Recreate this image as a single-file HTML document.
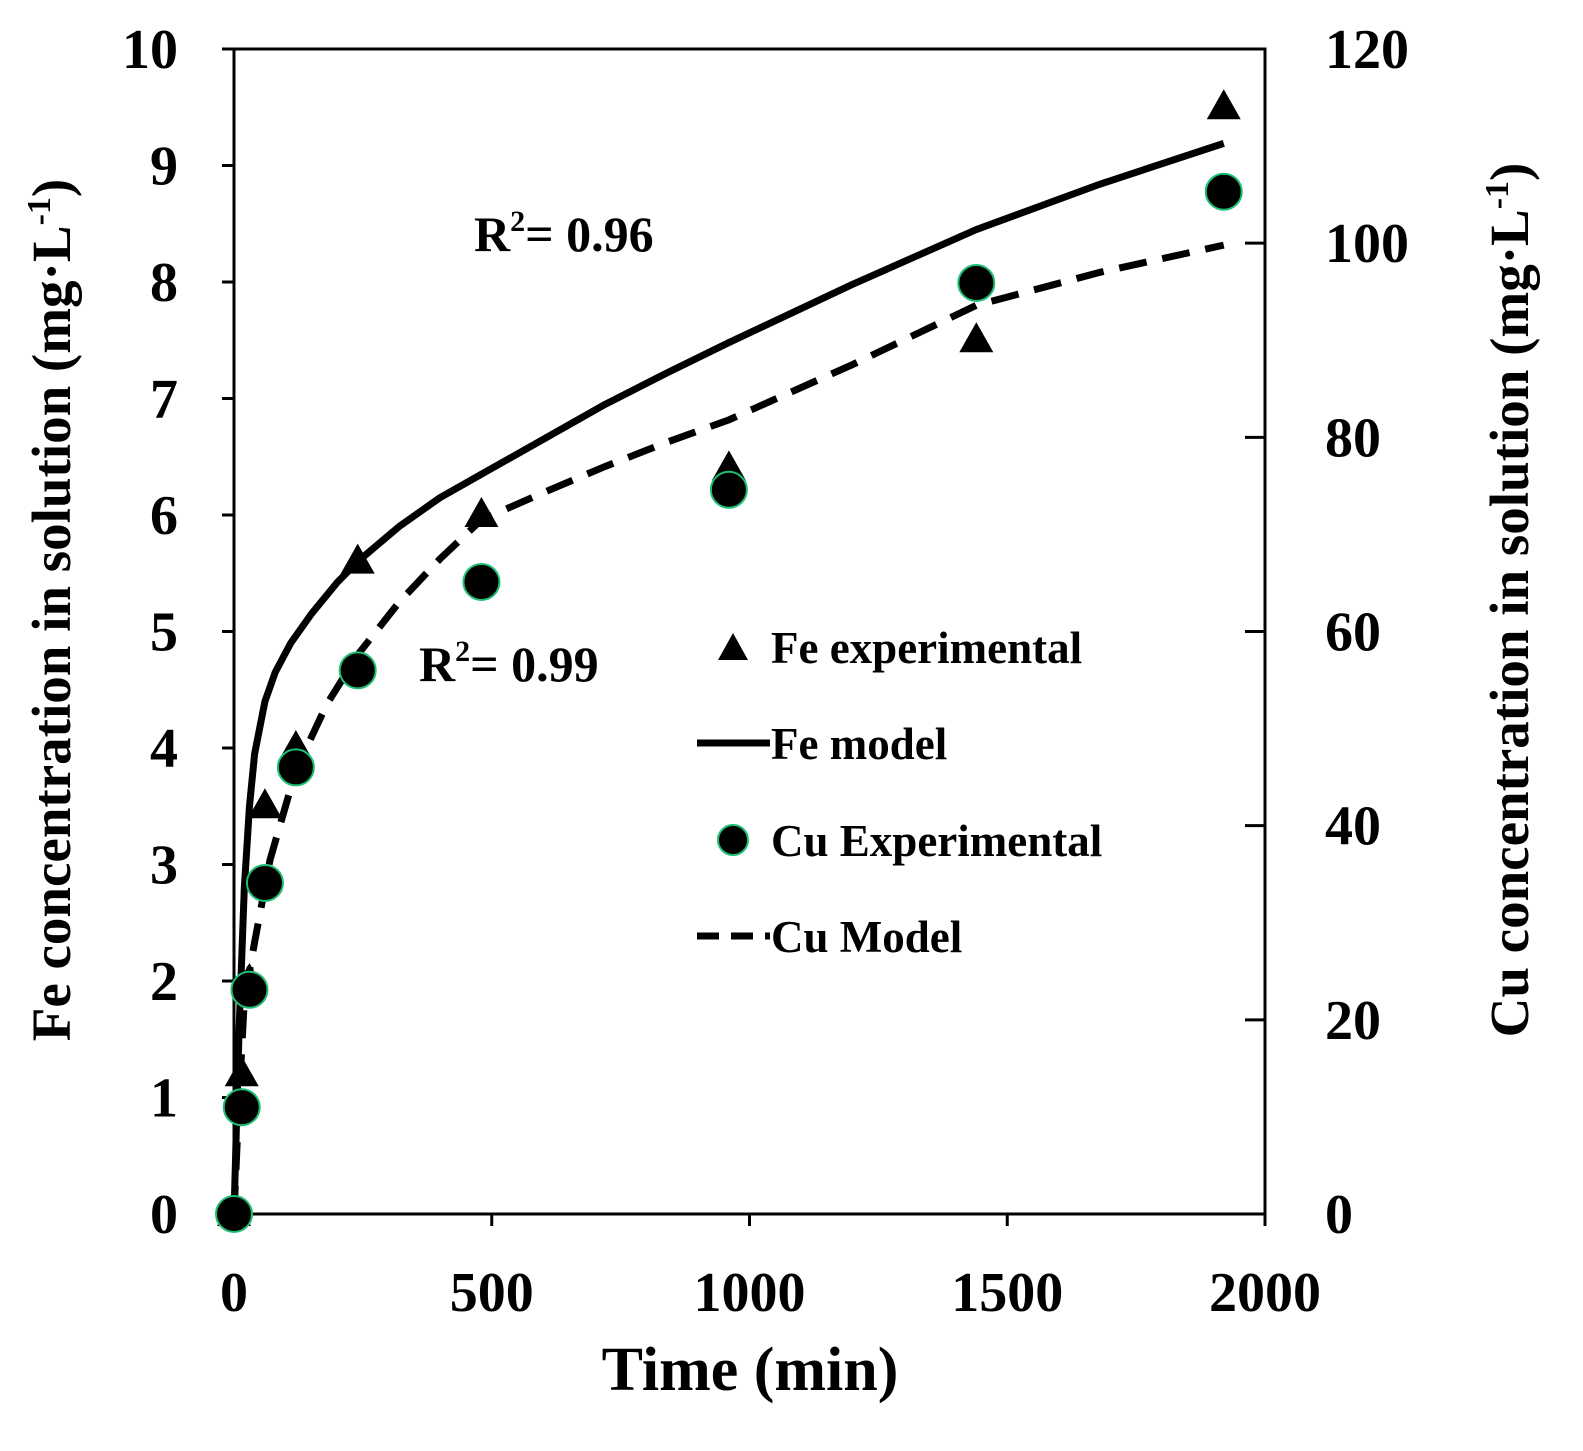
<!DOCTYPE html>
<html><head><meta charset="utf-8"><style>
body{margin:0;background:#fff}
svg text{font-family:"Liberation Serif",serif;font-weight:bold;fill:#000}
</style></head><body>
<svg id="chart" width="1583" height="1446" xmlns="http://www.w3.org/2000/svg">
<g id="axes"></g><g id="marks"></g><g id="legend"></g>
</svg>
<script>
const xTicks=[0,500,1000,1500,2000];
const yLeftTicks=[0,1,2,3,4,5,6,7,8,9,10];
const yRightTicks=[0,20,40,60,80,100,120];
const feTime=[0,15,30,60,120,240,480,960,1440,1920];
const feExp=[0,1.2,2.0,3.5,4.0,5.6,6.0,6.4,7.5,9.5];
const cuTime=[0,15,30,60,120,240,480,960,1440,1920];
const cuExp=[0,11,23.1,34.1,46,56,65.1,74.6,95.9,105.3];
const feModelT=[0,5,10,20,30,40,60,80,110,150,200,240,320,400,480,600,720,840,960,1200,1440,1680,1920];
const feModel=[0,0.8,1.6,2.8,3.5,3.95,4.4,4.65,4.9,5.15,5.42,5.6,5.9,6.15,6.35,6.65,6.95,7.22,7.48,7.98,8.45,8.84,9.19];
const cuModelT=[0,10,20,40,70,120,180,240,320,400,480,600,720,840,960,1200,1440,1680,1920];
const cuModel=[0,12,22,28,36.5,45.7,52.5,57.6,63,67.5,71.5,74.3,77,79.5,81.8,87.5,93.6,97,99.8];

const L=234,R=1265,T=49,B=1214,NS="http://www.w3.org/2000/svg";
const X=v=>L+(v/2000)*(R-L);
const YL=v=>B-(v/10)*(B-T);
const YR=v=>B-(v/120)*(B-T);
function mk(tag,attrs,parent,txt){const e=document.createElementNS(NS,tag);for(const k in attrs)e.setAttribute(k,attrs[k]);if(txt!==undefined)e.textContent=txt;document.getElementById(parent).appendChild(e);return e;}

let e=mk('rect',{x:L,y:T,width:R-L,height:B-T,fill:'none',stroke:'#000','stroke-width':3},'axes');

xTicks.forEach(v=>{
 let t=mk('line',{x1:X(v),x2:X(v),y1:B,y2:B+12,stroke:'#000','stroke-width':3},'axes');
 
 let l=mk('text',{x:X(v),y:B+97,'font-size':56,'text-anchor':'middle'},'axes',v);
 
});
yLeftTicks.forEach(v=>{
 let t=mk('line',{x1:L-12,x2:L,y1:YL(v),y2:YL(v),stroke:'#000','stroke-width':3},'axes');
 
 let l=mk('text',{x:178,y:YL(v)+19,'font-size':56,'text-anchor':'end'},'axes',v);
 
});
yRightTicks.forEach(v=>{
 let t=mk('line',{x1:R-20,x2:R,y1:YR(v),y2:YR(v),stroke:'#000','stroke-width':3},'axes');
 
 let l=mk('text',{x:1325,y:YR(v)+19,'font-size':56,'text-anchor':'start'},'axes',v);
 
});
e=mk('text',{x:750,y:1390,'font-size':62,'text-anchor':'middle'},'axes','Time (min)');

e=mk('text',{x:0,y:0,'font-size':55,'text-anchor':'middle',transform:'translate(70,610) rotate(-90)'},'axes','');
e.innerHTML='Fe concentration in solution (mg·L<tspan dy="-20" font-size="34">-1</tspan><tspan dy="20">)</tspan>';

e=mk('text',{x:0,y:0,'font-size':55,'text-anchor':'middle',transform:'translate(1528,600) rotate(-90)'},'axes','');
e.innerHTML='Cu concentration in solution (mg·L<tspan dy="-20" font-size="34">-1</tspan><tspan dy="20">)</tspan>';


e=mk('path',{d:feModelT.map((t,i)=>(i?'L':'M')+X(t)+','+YL(feModel[i])).join(''),fill:'none',stroke:'#000','stroke-width':7,'stroke-linejoin':'round'},'marks');

e=mk('path',{d:cuModelT.map((t,i)=>(i?'L':'M')+X(t)+','+YR(cuModel[i])).join(''),fill:'none',stroke:'#000','stroke-width':7,'stroke-dasharray':'28,16'},'marks');

feTime.forEach((t,i)=>{
 const x=X(t),y=YL(feExp[i]);
 let p=mk('path',{d:`M${x},${y-18}L${x+17},${y+12}L${x-17},${y+12}Z`,fill:'#000'},'marks');
 
});
cuTime.forEach((t,i)=>{
 let c=mk('circle',{cx:X(t),cy:YR(cuExp[i]),r:18,fill:'#000',stroke:'#1dbf73','stroke-width':2},'marks');
 
});
e=mk('text',{x:474,y:251,'font-size':50},'marks','');
e.innerHTML='R<tspan dy="-20" font-size="30">2</tspan><tspan dy="20">= 0.96</tspan>';

e=mk('text',{x:419,y:681,'font-size':50},'marks','');
e.innerHTML='R<tspan dy="-20" font-size="30">2</tspan><tspan dy="20">= 0.99</tspan>';


e=mk('path',{d:'M733,633L748,660L718,660Z',fill:'#000'},'legend');

e=mk('text',{x:771,y:663,'font-size':45},'legend','Fe experimental');

e=mk('line',{x1:697,x2:770,y1:743,y2:743,stroke:'#000','stroke-width':7},'legend');

e=mk('text',{x:771,y:759,'font-size':45},'legend','Fe model');

e=mk('circle',{cx:733,cy:840,r:15,fill:'#000',stroke:'#1dbf73','stroke-width':2},'legend');

e=mk('text',{x:771,y:856,'font-size':45},'legend','Cu Experimental');

e=mk('line',{x1:697,x2:770,y1:936,y2:936,stroke:'#000','stroke-width':7,'stroke-dasharray':'22,12'},'legend');

e=mk('text',{x:771,y:952,'font-size':45},'legend','Cu Model');

</script>
</body></html>
